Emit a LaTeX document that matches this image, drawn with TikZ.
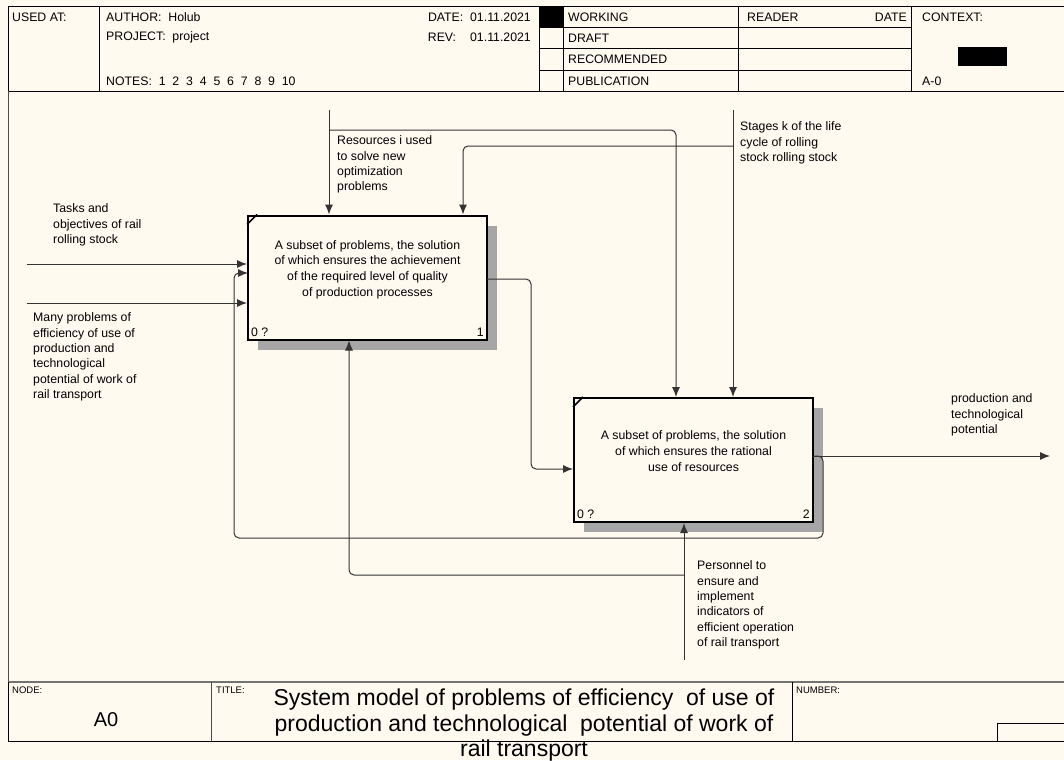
\documentclass[tikz,border=0pt]{standalone}
\usepackage{fontspec}
\setmainfont{Liberation Sans}
\usetikzlibrary{arrows.meta,positioning,shadows,calc}
\definecolor{paper}{RGB}{255,250,240}

\tikzset{
  hdr/.style={font=\fontsize{12.3}{14}\selectfont, inner sep=0pt, anchor=west},
  lbl/.style={font=\fontsize{12.3}{15.4}\selectfont, align=left, inner sep=0pt, anchor=north west},
  tinylbl/.style={font=\fontsize{9.5}{11}\selectfont, inner sep=0pt, anchor=west},
  func/.style={draw, line width=2pt, fill=paper, minimum width=239pt, minimum height=124pt,
    drop shadow={shadow xshift=10pt, shadow yshift=-10pt, fill=black!35, opacity=1}},
  functxt/.style={font=\fontsize{12.3}{15.7}\selectfont, align=center, inner sep=0pt},
  flow/.style={black!80, line width=1pt, rounded corners=5pt, -{Latex[length=10pt,width=8pt]}},
  link/.style={black!80, line width=1pt, rounded corners=5pt},
}

\begin{document}
\begin{tikzpicture}[x=1pt,y=-1pt]
  \fill[paper] (0,0) rectangle (1064,760);
  \useasboundingbox (0,0) rectangle (1064,760);

  % header
  \draw[line width=1pt] (1064,7) -- (8,7) -- (8,91) -- (1064,91);
  \foreach \xx in {99,539,563,738,911}
    \draw[line width=1pt] (\xx,7) -- (\xx,91);
  \foreach \yy in {28,49,70}
    \draw[line width=1pt] (539,\yy) -- (911,\yy);
  \fill (539,7) rectangle (563,28);
  \fill (958,47) rectangle (1007,66);

  \node[hdr] (usedat) at (12,17) {USED AT:};
  \node[hdr] (author) at (106,17) {AUTHOR:\ \ Holub};
  \node[hdr] (project) at (106,37) {PROJECT:\ \ project};
  \node[hdr] (notes) at (106,81) {NOTES:\ \ 1\ \ 2\ \ 3\ \ 4\ \ 5\ \ 6\ \ 7\ \ 8\ \ 9\ \ 10};
  \node[hdr,anchor=east] (date) at (531,17) {DATE:\ \ 01.11.2021};
  \node[hdr,anchor=east] (rev) at (531,37) {REV:\hspace{14pt}01.11.2021};
  \node[hdr] (working) at (568,17) {WORKING};
  \node[hdr] (draft) at (568,38) {DRAFT};
  \node[hdr] (recom) at (568,59) {RECOMMENDED};
  \node[hdr] (public) at (568,81) {PUBLICATION};
  \node[hdr] (reader) at (747,17) {READER};
  \node[hdr,anchor=east] (rdate) at (907,17) {DATE};
  \node[hdr] (context) at (922,17) {CONTEXT:};
  \node[hdr] (ctxnode) at (922,81) {A-0};

  % diagram frame
  \draw[black!70, line width=1pt] (8,91) -- (8,682);

  % activities
  \node[func] (b1) at (367.5,277.5) {};
  \node[functxt, yshift=8pt] (b1t) at (b1) {A subset of problems, the solution\\of which ensures the achievement\\of the required level of quality\\of production processes};
  \node[func] (b2) at (693.5,460) {};
  \node[functxt, yshift=9pt] (b2t) at (b2) {A subset of problems, the solution\\of which ensures the rational\\use of resources};
  \foreach \bx in {b1,b2} {
    \draw[line width=1.5pt] ($(\bx.north west)+(0,10)$) -- ($(\bx.north west)+(10,0)$);
    \node[hdr, anchor=south west] (\bx c) at ($(\bx.south west)+(4,-4)$) {0 ?};
  }
  \node[hdr, anchor=south east] (b1n) at ($(b1.south east)+(-4,-4)$) {1};
  \node[hdr, anchor=south east] (b2n) at ($(b2.south east)+(-4,-4)$) {2};

  % inputs
  \coordinate (tsk) at (27,264);
  \coordinate (mny) at (27,303);
  \draw[flow] (tsk) -- (tsk -| b1.west);
  \draw[flow] (mny) -- (mny -| b1.west);

  % controls
  \coordinate (res) at (329,110);
  \coordinate (resb) at (329,130);
  \coordinate (b2in1) at (676,0);
  \draw[flow] (res) -- (res |- b1.north);
  \draw[flow] (resb) -| (b2in1 |- b2.north);
  \coordinate (stg) at (733,110);
  \coordinate (stgb) at (733,146);
  \coordinate (b1in2) at (463,0);
  \draw[flow] (stg) -- (stg |- b2.north);
  \draw[flow] (stgb) -| (b1in2 |- b1.north);

  % outputs and feedback
  \coordinate (b1out) at (487,279);
  \coordinate (b2in) at (531,469);
  \draw[flow] (b1out) -| (b2in) -- (b2in -| b2.west);
  \coordinate (b2out) at (813,456);
  \coordinate (prod) at (1050,456);
  \draw[flow] (b2out) -- (prod);
  \draw[flow] (b2out) -- (823,456) -- (823,538) -- (234,538) -- (234,273) -- (248,273);

  % mechanism
  \coordinate (per) at (684,660);
  \coordinate (perb) at (684,575);
  \coordinate (b1mech) at (349,0);
  \draw[flow] (per) -- (per |- b2.south);
  \draw[flow] (perb) -| (b1mech |- b1.south);

  % arrow labels
  \node[lbl] (resL) at (337,135.5) {Resources i used\\to solve new\\optimization\\problems};
  \node[lbl] (stgL) at (740,121.5) {Stages k of the life\\cycle of rolling\\stock rolling stock};
  \node[lbl] (tskL) at (53,203.5) {Tasks and\\objectives of rail\\rolling stock};
  \node[lbl] (mnyL) at (33,312.5) {Many problems of\\efficiency of use of\\production and\\technological\\potential of work of\\rail transport};
  \node[lbl] (outL) at (951,393.5) {production and\\technological\\potential};
  \node[lbl] (perL) at (697,560.5) {Personnel to\\ensure and\\implement\\indicators of\\efficient operation\\of rail transport};

  % footer
  \draw[black!55, line width=1.5pt] (8,682) -- (1064,682);
  \draw[line width=1pt] (8,682) -- (8,741) -- (1064,741);
  \draw[black!70, line width=1pt] (211,682) -- (211,741);
  \draw[line width=1pt] (792,682) -- (792,741);
  \draw[line width=1pt] (1064,723) -- (997,723) -- (997,741);
  \node[tinylbl] (nodeL) at (12,690) {NODE:};
  \node[tinylbl] (titleL) at (216,690) {TITLE:};
  \node[tinylbl] (numL) at (796,690) {NUMBER:};
  \node[font=\fontsize{20}{22}\selectfont, inner sep=0pt] (a0) at (106,720) {A0};
  \node[font=\fontsize{23}{25.5}\selectfont, align=center, inner sep=0pt, anchor=north] (title) at (524,689)
    {System model of problems of efficiency\ \ of use of\\production and technological\ \ potential of work of\\rail transport};
\end{tikzpicture}
\end{document}
